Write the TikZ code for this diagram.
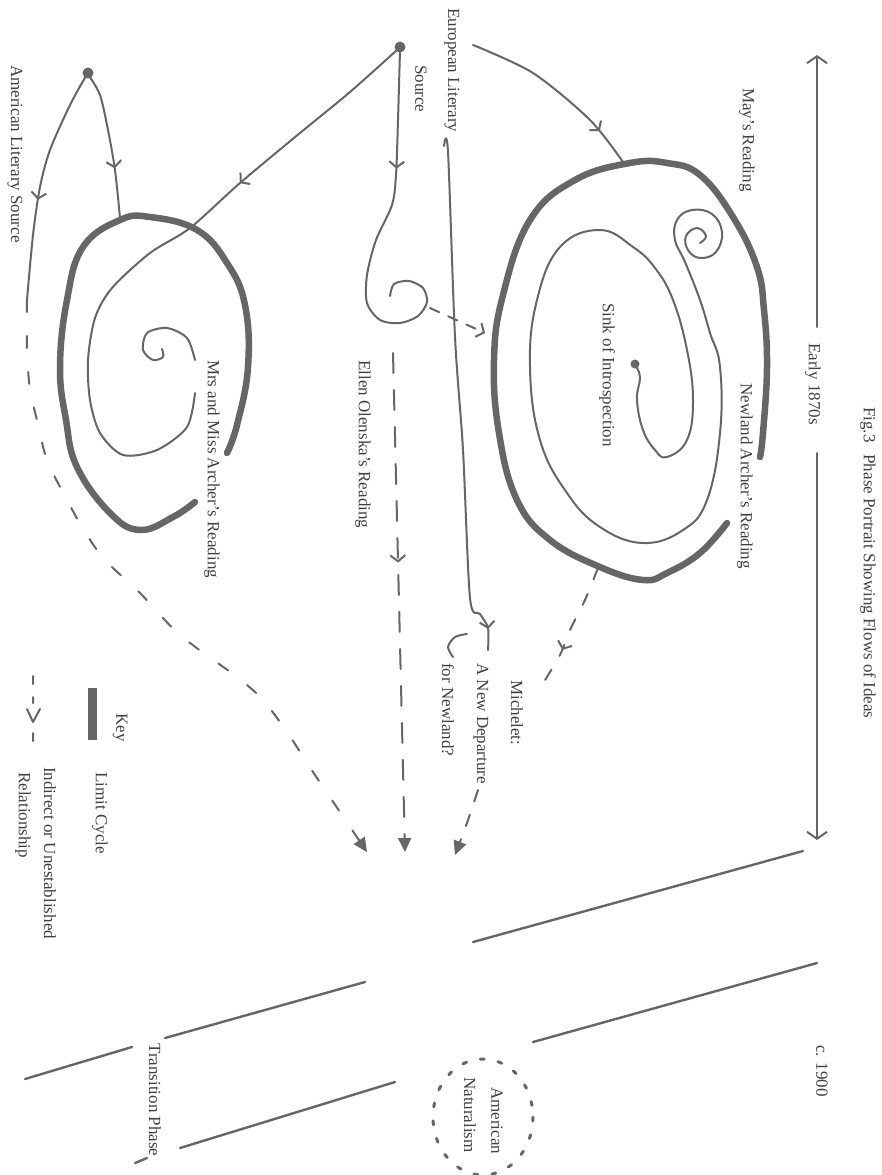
\documentclass[tikz,border=0pt]{standalone}
\usepackage{fontspec}
\setmainfont{Liberation Serif}
\usetikzlibrary{arrows.meta,decorations.markings}
\definecolor{ink}{gray}{0.4}
\definecolor{txt}{gray}{0.25}

\begin{document}
\begin{tikzpicture}[x=1pt, y=-1pt, line cap=round, line join=round,
    flowline/.style={draw=ink, line width=2pt},
    cycleline/.style={draw=ink, line width=6.5pt},
    band/.style={draw=ink, line width=2.4pt},
    barbat/.style={postaction={decorate, decoration={markings,
        mark=at position #1 with {\arrow{Straight Barb[length=6pt,width=15pt]}}}}},
    endhead/.style={-{Triangle[length=14pt,width=13pt]}},
    lbl/.style={font=\fontsize{17}{19}\selectfont, text=txt, rotate=-90, inner sep=0pt, anchor=west}]
\useasboundingbox (0,0) rectangle (881,1175);

% time axis
\draw[flowline, {Straight Barb[length=7pt,width=20pt]}-] (817,55) -- (817,327);
\draw[flowline, -{Straight Barb[length=7pt,width=20pt]}] (817,453) -- (817,840);
\node[lbl] (early) at (813,343) {Early 1870s};
\node[lbl] (title) at (868,407) {Fig.3\hspace{0.7em}Phase Portrait Showing Flows of Ideas};
\node[lbl] (later) at (822,1045) {c. 1900};

% Newland Archer
\draw[cycleline] plot[smooth, tension=0.7] coordinates {(727,523) (700,553) (667,573) (643,580) (600,567) (550,540) (517,500) (499,433) (494,360) (503,295) (530,220) (575,180) (630,163) (667,163) (700,175) (733,217) (757,267) (764,310) (767,367) (763,433) (760,457)};
\draw[flowline] plot[smooth, tension=0.7] coordinates {(635,365) (640,377) (637,400) (643,430) (655,450) (667,457) (687,440) (693,400) (687,350) (673,300) (655,268) (633,247) (600,230) (560,247) (537,300) (530,367) (540,440) (567,493) (600,527) (643,543) (683,530) (707,500) (720,433) (720,367) (710,333) (700,300) (685,262) (675,240) (677,220) (692,210) (712,214) (722,232) (716,252) (700,258) (688,250) (686,236) (697,228) (706,236) (700,243)};
\fill[ink] (635,364) circle (4.5);
\node[lbl] (sink) at (607,303) {Sink of Introspection};
\node[lbl] (newland) at (745,383) {Newland Archer’s Reading};
\draw[flowline, barbat=0.8] plot[smooth] coordinates {(473,45) (533,73) (590,120) (623,162)};
\node[lbl] (may) at (747,88) {May’s Reading};

% European source
\fill[ink] (400,47) circle (5.5);
\node[lbl] (euro) at (452,8) {European Literary};
\node[lbl] (eurob) at (421,65) {Source};
\draw[flowline, barbat=0.3] plot[smooth] coordinates {(400,50) (398,120) (396,175) (392,205) (376,240) (367,275) (367,303) (380,320) (400,323) (418,316) (427,302) (423,288) (409,281) (394,284) (390,296)};
\draw[flowline, dash pattern=on 10pt off 10pt, -{Straight Barb[length=6pt,width=15pt]}] (430,308) -- (485,333);
\draw[flowline, barbat=0.31] plot[smooth] coordinates {(397,50) (350,92) (300,133) (240,183) (190,228) (150,253) (112,288) (95,318) (88,360) (90,400) (100,433) (123,455) (157,450) (187,427) (195,393)};
\draw[flowline, barbat=0.96] plot[smooth] coordinates {(444,146) (448,152) (455,337) (463,450) (470,598) (480,614) (488,628) (488,650)};
\draw[flowline] plot[smooth] coordinates {(467,634) (455,637) (448,647) (453,657)};

% Ellen Olenska
\draw[flowline, dash pattern=on 20pt off 17pt, barbat=0.42, endhead] (393,353) -- (405,852);
\node[lbl] (ellen) at (363,360) {Ellen Olenska’s Reading};

% Michelet
\draw[flowline, dash pattern=on 12pt off 16pt, barbat=0.72] plot[smooth] coordinates {(598,568) (585,600) (570,630) (560,655) (545,680)};
\draw[flowline, dash pattern=on 12pt off 14pt, endhead] plot[smooth] coordinates {(478,790) (467,823) (455,855)};
\node[lbl] (michelet) at (517,680) {Michelet:};
\node[lbl] (depart) at (481,663) {A New Departure};
\node[lbl] (departb) at (448,663) {for Newland?};

% Mrs and Miss Archer
\draw[cycleline] plot[smooth, tension=0.7] coordinates {(227,453) (237,425) (248,367) (245,305) (227,263) (197,230) (150,217) (120,220) (83,247) (67,300) (60,367) (66,420) (77,467) (110,513) (140,530) (173,517) (195,502)};
\draw[flowline] plot[smooth] coordinates {(195,360) (187,338) (167,328) (147,333) (143,350) (153,360) (163,357) (162,349)};
\node[lbl] (mrs) at (212,360) {Mrs and Miss Archer’s Reading};

% American source
\fill[ink] (88,73) circle (5.5);
\node[lbl] (amer) at (15,65) {American Literary Source};
\draw[flowline, barbat=0.66] plot[smooth] coordinates {(89,76) (100,95) (108,130) (115,170) (120,218)};
\draw[flowline, barbat=0.57] plot[smooth] coordinates {(86,76) (70,105) (50,150) (40,187) (33,235) (27,300)};
\draw[flowline, dash pattern=on 12pt off 24pt, endhead] plot[smooth] coordinates {(27,300) (27,350) (30,390) (37,420) (47,460) (67,500) (85,532) (105,560) (140,593) (180,635) (237,677) (263,700) (287,732) (313,772) (340,812) (367,852)};

% key
\node[lbl] (key) at (120,713) {Key};
\fill[ink] (88,688) rectangle (97,740);
\node[lbl] (limit) at (100,772) {Limit Cycle};
\draw[flowline] (33,676) -- (33,684) (33,697) -- (33,703) (27,709) -- (33,722) -- (40,709) (33,733) -- (33,741);
\node[lbl] (indirect) at (50,767) {Indirect or Unestablished};
\node[lbl] (indirectb) at (23,772) {Relationship};

% transition bands
\draw[band] (25,1079) -- (132,1047) (165,1038) -- (365,982) (473,942) -- (803,851);
\draw[band] (135,1163) -- (147,1158) (180,1148) -- (395,1082) (533,1042) -- (817,963);
\node[lbl] (trans) at (155,1043) {Transition Phase};
\draw[ink, line width=3pt, dash pattern=on 4pt off 14pt] (483,1117) ellipse (50 and 58);
\node[lbl] (amnat) at (497,1087) {American};
\node[lbl] (amnatb) at (470,1077) {Naturalism};
\end{tikzpicture}
\end{document}
